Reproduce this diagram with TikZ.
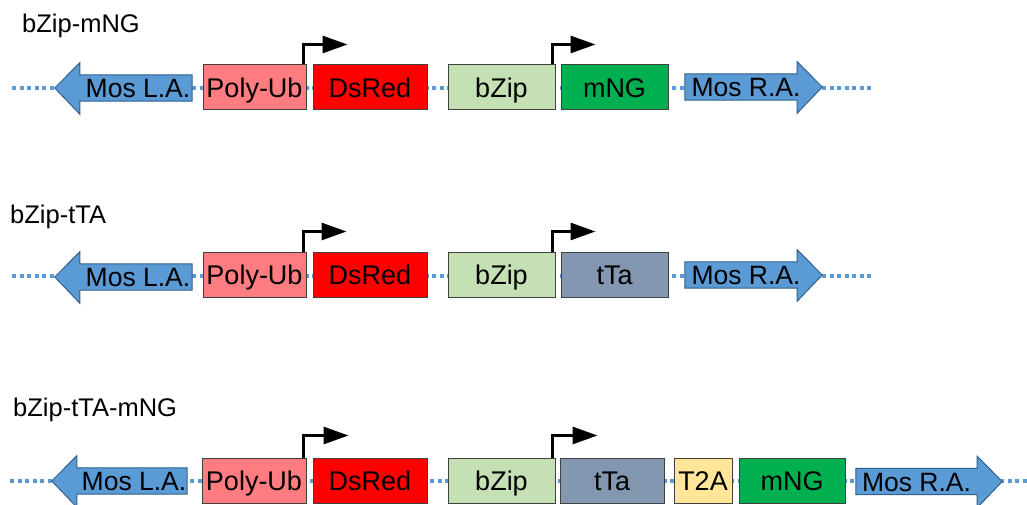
\documentclass[tikz,border=0pt]{standalone}
\usepackage{fontspec}
\setmainfont{Liberation Sans}
\usetikzlibrary{arrows.meta,calc}
\definecolor{mosblue}{HTML}{5B9BD5}
\definecolor{mosedge}{HTML}{2F5F8A}
\definecolor{polyub}{HTML}{FF7C80}
\definecolor{dsred}{HTML}{FF0000}
\definecolor{bzipc}{HTML}{C5E0B4}
\definecolor{mngc}{HTML}{00B050}
\definecolor{ttac}{HTML}{8497B0}
\definecolor{t2ac}{HTML}{FFE699}
\definecolor{boxedge}{HTML}{404040}
\tikzset{
  gene/.style={draw=boxedge, line width=1pt, minimum height=45pt, inner sep=0pt,
    font=\fontsize{27}{32}\selectfont, text height=19.5pt, text depth=0pt, anchor=center},
  armbody/.style={minimum height=26pt, inner sep=0pt, font=\fontsize{26.5}{32}\selectfont,
    text height=19pt, text depth=0pt},
  armfill/.style={fill=mosblue, draw=mosedge, line width=1pt, line join=miter},
  backbone/.style={mosblue, line width=4pt, dash pattern=on 4pt off 3.5pt},
  prom/.style={line width=3pt, -{Triangle[length=25pt,width=17pt]}},
  title/.style={anchor=west, font=\fontsize{25.5}{30}\selectfont, inner sep=0pt,
    text height=18pt, text depth=0pt}
}
\newcommand{\leftarm}[1]{%
  \fill[armfill] (#1.north east) -- (#1.north west) -- ++(0,-12) -- ($(#1.west)+(-25,0)$)
    -- ($(#1.south west)+(0,13)$) -- (#1.south west) -- (#1.south east) -- cycle;}
\newcommand{\rightarm}[1]{%
  \fill[armfill] (#1.north west) -- (#1.north east) -- ++(0,-12) -- ($(#1.east)+(25,0)$)
    -- ($(#1.south east)+(0,13)$) -- (#1.south east) -- (#1.south west) -- cycle;}
\begin{document}
\begin{tikzpicture}[x=1pt,y=-1pt]
\useasboundingbox (0,0) rectangle (1027,505);

% ---------------- Row 1 ----------------
\node[title] (t1) at (22,24) {bZip-mNG};
\coordinate (l1) at (12,88);
\coordinate (r1) at (872,88);
\draw[backbone] (l1) -- (r1);
\node[armbody, minimum width=112pt] (la1) at (136,88) {};
\leftarm{la1}
\node[armbody, minimum width=112pt] at ([xshift=2pt]la1.center) {Mos L.A.};
\node[gene, fill=polyub, minimum width=103pt] (pu1) at (254.5,87.5) {Poly-Ub};
\node[gene, fill=dsred, minimum width=114pt] (ds1) at (370,87.5) {DsRed};
\node[gene, fill=bzipc, minimum width=107pt] (bz1) at (501.5,87.5) {bZip};
\node[gene, fill=mngc, minimum width=107pt] (ng1) at (614.5,87.5) {mNG};
\node[armbody, minimum width=112pt] (ra1) at (741,87) {};
\rightarm{ra1}
\node[armbody, minimum width=112pt] at ([xshift=5pt]ra1.center) {Mos R.A.};
\draw[prom] ([xshift=-3pt]pu1.north east) |- ++(44,-20);
\draw[prom] ([xshift=-3pt]bz1.north east) |- ++(43,-20);

% ---------------- Row 2 ----------------
\node[title] (t2) at (10,214) {bZip-tTA};
\coordinate (l2) at (12,276);
\coordinate (r2) at (872,276);
\draw[backbone] (l2) -- (r2);
\node[armbody, minimum width=112pt] (la2) at (136,277) {};
\leftarm{la2}
\node[armbody, minimum width=112pt] at ([xshift=2pt]la2.center) {Mos L.A.};
\node[gene, fill=polyub, minimum width=103pt] (pu2) at (254.5,274.5) {Poly-Ub};
\node[gene, fill=dsred, minimum width=114pt] (ds2) at (370,274.5) {DsRed};
\node[gene, fill=bzipc, minimum width=107pt] (bz2) at (501.5,274.5) {bZip};
\node[gene, fill=ttac, minimum width=107pt] (tt2) at (614.5,274.5) {tTa};
\node[armbody, minimum width=112pt] (ra2) at (741,275) {};
\rightarm{ra2}
\node[armbody, minimum width=112pt] at ([xshift=5pt]ra2.center) {Mos R.A.};
\draw[prom] ([xshift=-3pt]pu2.north east) |- ++(43,-20);
\draw[prom] ([xshift=-3pt]bz2.north east) |- ++(43,-20);

% ---------------- Row 3 ----------------
\node[title] (t3) at (13,407) {bZip-tTA-mNG};
\coordinate (l3) at (10,481);
\coordinate (r3) at (1030,481);
\draw[backbone] (l3) -- (r3);
\node[armbody, minimum width=110pt] (la3) at (132,481) {};
\leftarm{la3}
\node[armbody, minimum width=110pt] at ([xshift=2pt]la3.center) {Mos L.A.};
\node[gene, fill=polyub, minimum width=104pt] (pu3) at (254,480.5) {Poly-Ub};
\node[gene, fill=dsred, minimum width=114pt] (ds3) at (370,480.5) {DsRed};
\node[gene, fill=bzipc, minimum width=107pt] (bz3) at (501.5,480.5) {bZip};
\node[gene, fill=ttac, minimum width=104pt] (tt3) at (612,480.5) {tTa};
\node[gene, fill=t2ac, minimum width=58pt] (ta3) at (703,480.5) {T2A};
\node[gene, fill=mngc, minimum width=106pt] (ng3) at (792,480.5) {mNG};
\node[armbody, minimum width=121pt] (ra3) at (916.5,481.5) {};
\rightarm{ra3}
\node[armbody, minimum width=121pt] at (ra3) {Mos R.A.};
\draw[prom] ([xshift=-3pt]pu3.north east) |- ++(45,-22);
\draw[prom] ([xshift=-3pt]bz3.north east) |- ++(45,-22);
\end{tikzpicture}
\end{document}
